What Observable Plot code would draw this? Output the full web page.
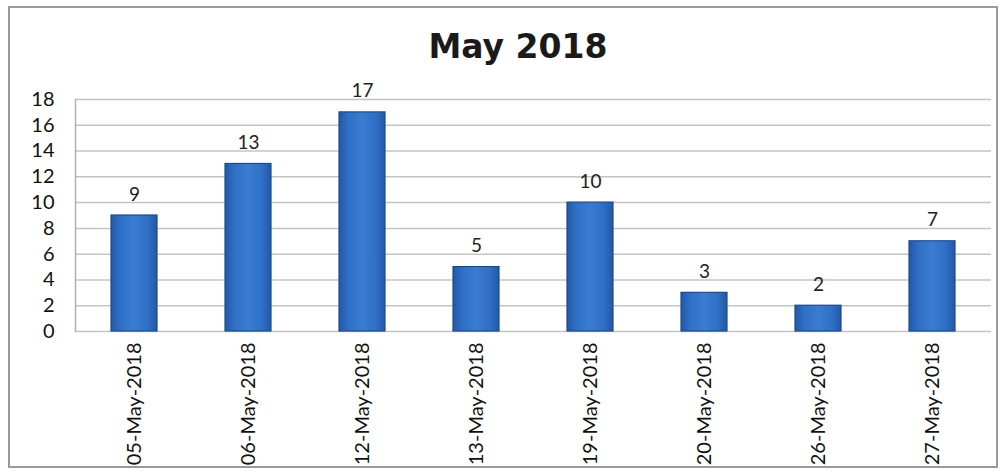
<!DOCTYPE html>
<html>
<head>
<meta charset="utf-8">
<script src="https://cdn.jsdelivr.net/npm/d3@7"></script>
<script src="https://cdn.jsdelivr.net/npm/@observablehq/plot@0.6"></script>
<style>
  html, body { margin: 0; padding: 0; background: #fff; }
  #wrap { position: relative; width: 1007px; height: 474px; overflow: hidden; font-family: Lato, "Noto Sans", sans-serif; }
  #frame { position: absolute; left: 8px; top: 6px; width: 990px; height: 462px; border: 2px solid #9a9a9a; box-sizing: border-box; }
  #title { position: absolute; left: 0; width: 1036px; top: 27px; text-align: center; font-family: "DejaVu Sans", sans-serif; font-size: 33px; font-weight: 700; color: #1a1a1a; line-height: 40px; }
  #chart { position: absolute; left: 0; top: 0; }
</style>
</head>
<body>
<div id="wrap">
  <div id="frame"></div>
  <div id="title">May 2018</div>
  <div id="chart"></div>
</div>
<script>
const dates = ["05-May-2018", "06-May-2018", "12-May-2018", "13-May-2018", "19-May-2018", "20-May-2018", "26-May-2018", "27-May-2018"];
const counts = [9, 13, 17, 5, 10, 3, 2, 7];
const yTicks = [0, 2, 4, 6, 8, 10, 12, 14, 16, 18];

const data = dates.map((d, i) => ({date: d, count: counts[i]}));

const chart = Plot.plot({
  width: 1007,
  height: 474,
  marginLeft: 75,
  marginRight: 16,
  marginTop: 99,
  marginBottom: 143,
  style: {fontFamily: "Lato, 'Noto Sans', sans-serif", fontSize: "20px", color: "#111", background: "transparent"},
  x: {domain: dates, paddingInner: 0.6, paddingOuter: 0.3, label: null, tickSize: 0, tickPadding: 11, tickRotate: -90},
  y: {domain: [0, 18], ticks: yTicks, label: null, tickSize: 0, tickPadding: 21},
  marks: [
    Plot.ruleY(yTicks, {stroke: "#c4c4c4", strokeWidth: 1.5}),
    Plot.frame({anchor: "left", stroke: "#b0b0b0", strokeWidth: 1.5}),
    Plot.barY(data, {x: "date", y: "count", fill: "url(#barGrad)", stroke: "#1d4c8c", strokeWidth: 1.2}),
    Plot.text(data, {x: "date", y: "count", text: d => String(d.count), dy: -15, lineAnchor: "bottom", fontSize: 19, fill: "#222"})
  ]
});

const svg = d3.select(chart);
const defs = svg.insert("defs", ":first-child");
const g = defs.append("linearGradient").attr("id", "barGrad").attr("x1", "0").attr("x2", "1").attr("y1", "0").attr("y2", "0");
g.append("stop").attr("offset", "0%").attr("stop-color", "#2358a6");
g.append("stop").attr("offset", "20%").attr("stop-color", "#2f6fc6");
g.append("stop").attr("offset", "50%").attr("stop-color", "#3a7cd2");
g.append("stop").attr("offset", "80%").attr("stop-color", "#2f6fc6");
g.append("stop").attr("offset", "100%").attr("stop-color", "#2358a6");

document.getElementById("chart").appendChild(chart);
</script>
</body>
</html>
